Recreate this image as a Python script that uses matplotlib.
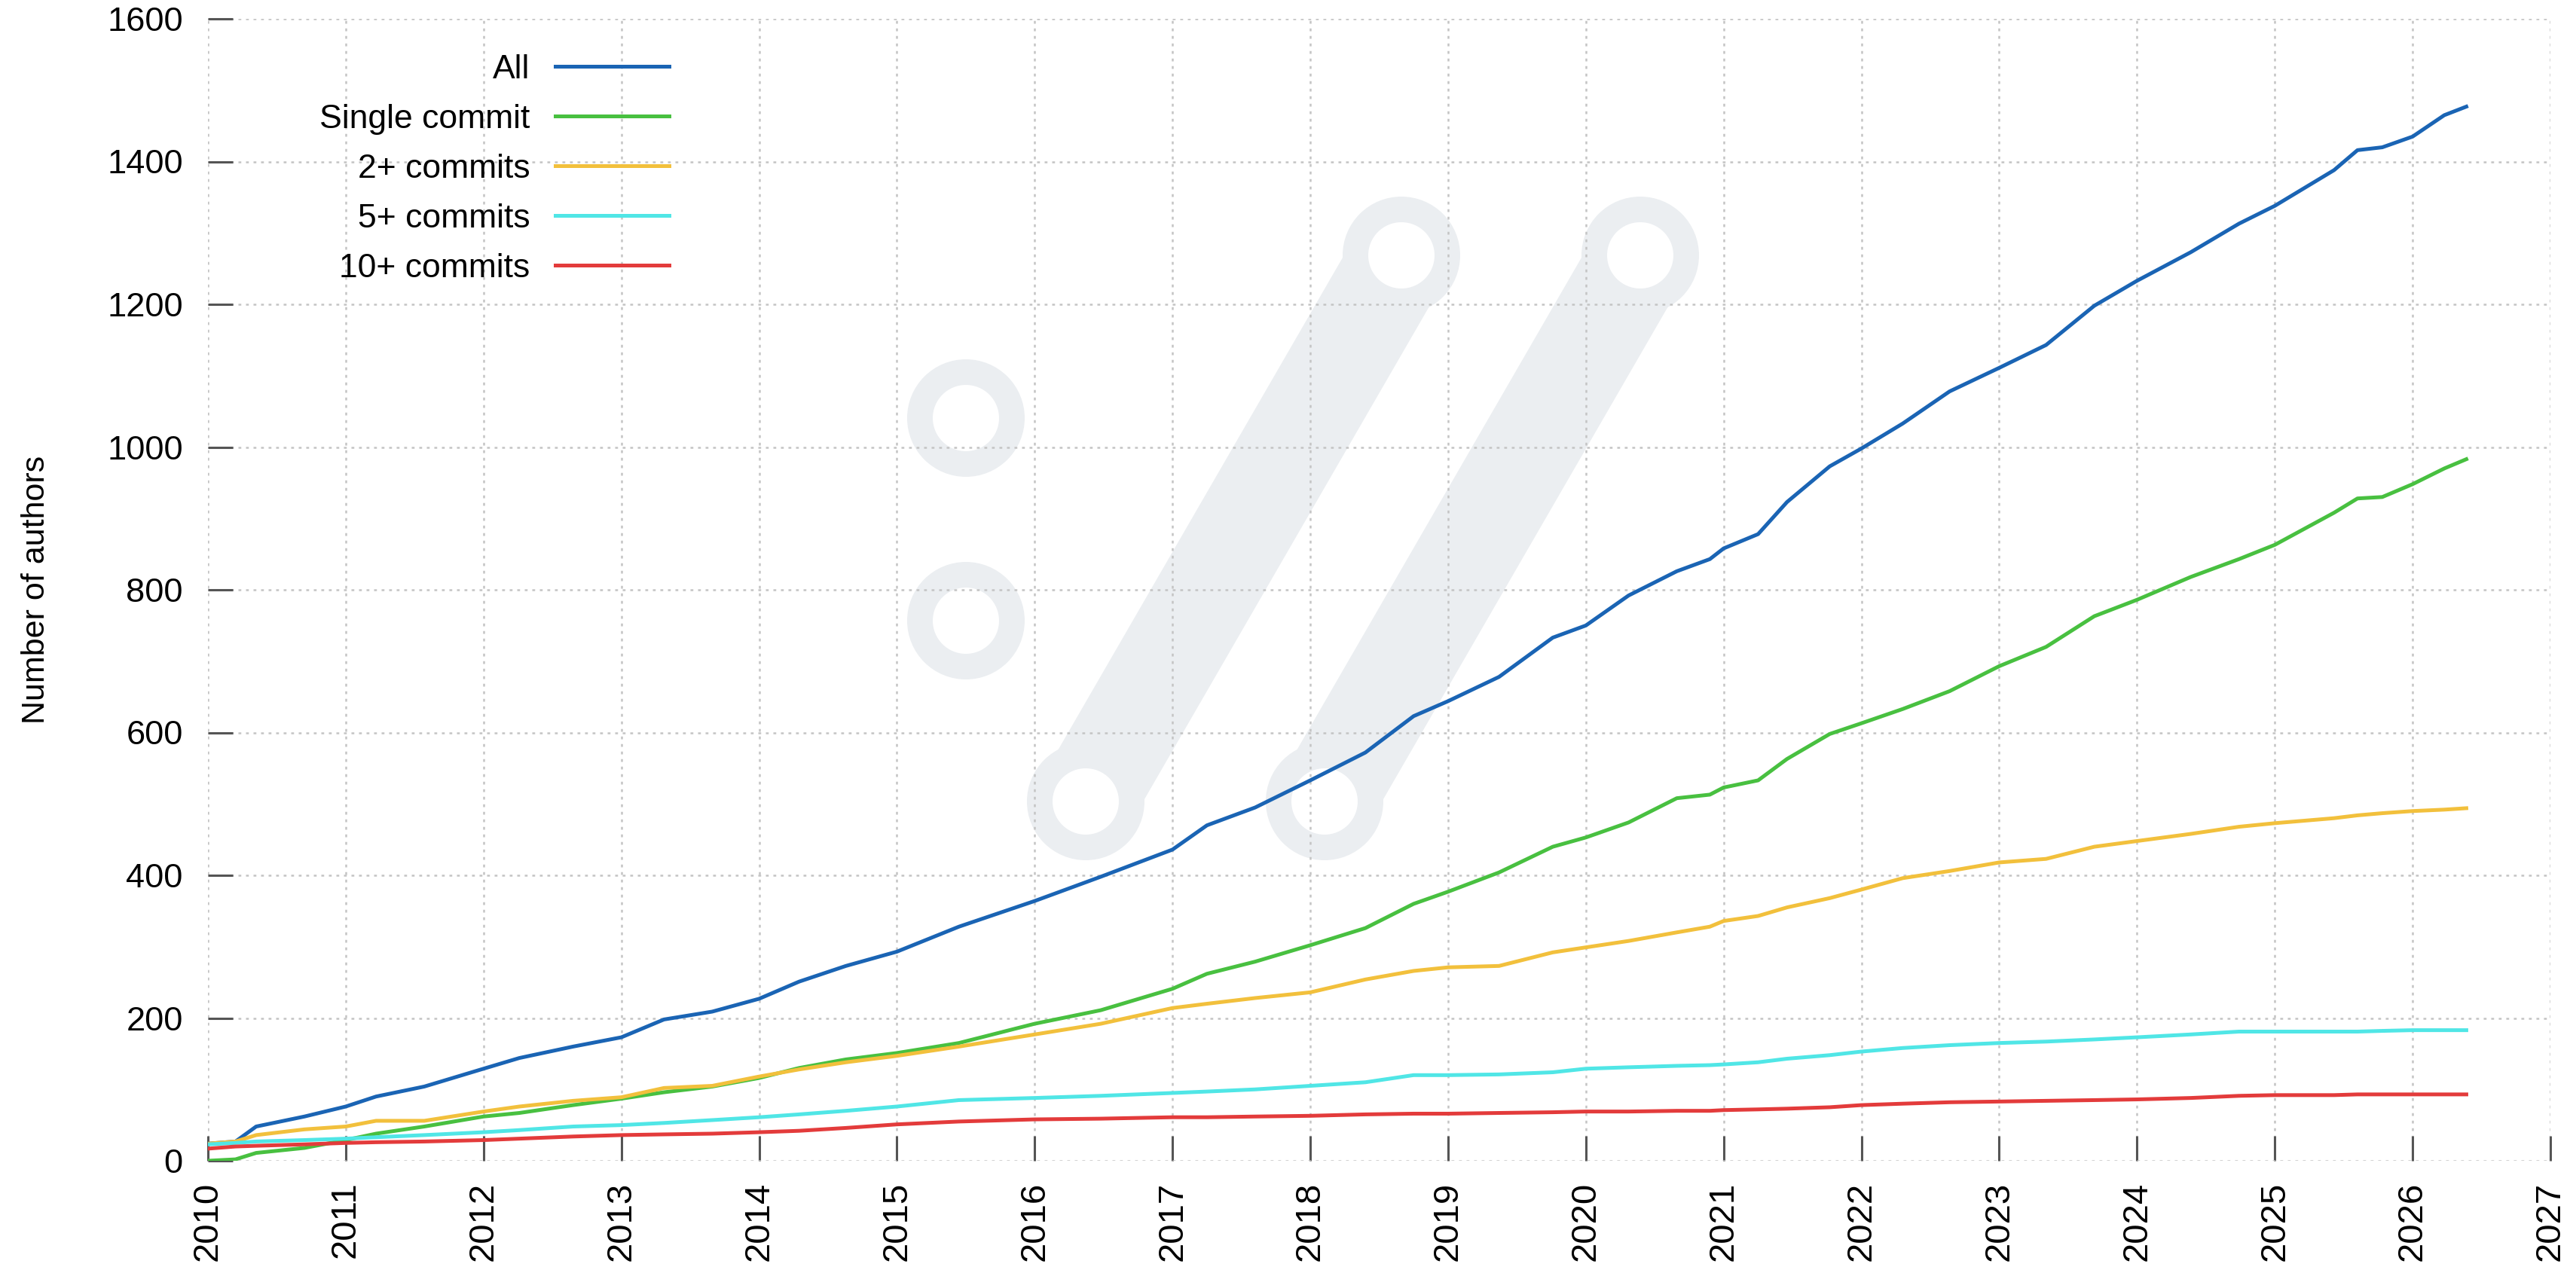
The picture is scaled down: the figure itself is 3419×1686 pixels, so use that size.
import matplotlib
matplotlib.use('Agg')
import matplotlib.pyplot as plt
from matplotlib import font_manager
from matplotlib.patches import Circle, Polygon
import numpy as np

# cumulative number of distinct authors, sampled along the timeline
years = [2010.0, 2010.2, 2010.35, 2010.7, 2011.0, 2011.22, 2011.57, 2012.0, 2012.26, 2012.65,
         2013.0, 2013.31, 2013.66, 2014.0, 2014.29, 2014.63, 2015.0, 2015.45, 2016.0, 2016.48,
         2017.0, 2017.25, 2017.6, 2018.0, 2018.4, 2018.75, 2019.0, 2019.37, 2019.76, 2020.0,
         2020.31, 2020.66, 2020.9, 2021.0, 2021.25, 2021.46, 2021.77, 2022.0, 2022.3, 2022.64,
         2023.0, 2023.34, 2023.69, 2024.0, 2024.39, 2024.74, 2025.0, 2025.43, 2025.6, 2025.78,
         2026.0, 2026.23, 2026.39]

all_authors = [24, 27, 48, 62, 76, 90, 104, 129, 144, 160,
               173, 198, 209, 227, 251, 273, 293, 328, 364, 398,
               436, 470, 495, 533, 572, 623, 644, 678, 733, 750,
               792, 826, 843, 858, 878, 923, 973, 998, 1033, 1078,
               1111, 1143, 1198, 1233, 1273, 1313, 1338, 1388, 1416, 1420,
               1435, 1465, 1477]

single_commit = [0, 2, 11, 18, 29, 38, 48, 62, 67, 78,
                 87, 96, 104, 116, 130, 142, 151, 165, 192, 211,
                 241, 262, 279, 302, 326, 360, 377, 404, 440, 453,
                 474, 508, 513, 523, 533, 563, 598, 613, 633, 658,
                 693, 720, 763, 786, 818, 843, 863, 908, 928, 930,
                 948, 970, 983]

two_plus = [24, 27, 36, 44, 48, 56, 56, 69, 76, 84,
            89, 102, 105, 118, 128, 138, 147, 160, 177, 192,
            214, 220, 228, 236, 254, 266, 271, 273, 292, 299,
            308, 320, 328, 336, 343, 355, 368, 380, 396, 406,
            418, 423, 440, 448, 458, 468, 473, 480, 484, 487,
            490, 492, 494]

five_plus = [23, 25, 27, 29, 31, 33, 36, 40, 43, 48,
             50, 53, 57, 61, 65, 70, 76, 85, 88, 91,
             95, 97, 100, 105, 110, 120, 120, 121, 124, 129,
             131, 133, 134, 135, 138, 143, 148, 153, 158, 162,
             165, 167, 170, 173, 177, 181, 181, 181, 181, 182,
             183, 183, 183]

ten_plus = [17, 20, 21, 23, 25, 26, 27, 29, 31, 34,
            36, 37, 38, 40, 42, 46, 51, 55, 58, 59,
            61, 61, 62, 63, 65, 66, 66, 67, 68, 69,
            69, 70, 70, 71, 72, 73, 75, 78, 80, 82,
            83, 84, 85, 86, 88, 91, 92, 92, 93, 93,
            93, 93, 93]

series = [
    ('All', all_authors, '#1a64b4'),
    ('Single commit', single_commit, '#48c040'),
    ('2+ commits', two_plus, '#f2c03c'),
    ('5+ commits', five_plus, '#50e6e6'),
    ('10+ commits', ten_plus, '#e33b3b'),
]

plt.rcParams['font.family'] = ['Liberation Sans', 'DejaVu Sans']
installed = {f.name for f in font_manager.fontManager.ttflist}
if 'Liberation Sans Narrow' in installed:
    year_font, year_size = 'Liberation Sans Narrow', 18
else:
    year_font, year_size = 'Liberation Sans', 17

W, H, DPI = 3419, 1686, 200
fig = plt.figure(figsize=(W / DPI, H / DPI), dpi=DPI)
fig.patch.set_facecolor('white')

# faint logo drawn behind the plot, in pixel units
bg = fig.add_axes([0, 0, 1, 1], zorder=0)
bg.set_xlim(0, W)
bg.set_ylim(H, 0)
bg.axis('off')
logo = '#ebeef1'


def bar(x0, y0, x1, y1, w=132):
    d = np.array([x1 - x0, y1 - y0], dtype=float)
    n = np.array([-d[1], d[0]]) / np.hypot(*d) * w / 2
    pts = [(x0 + n[0], y0 + n[1]), (x1 + n[0], y1 + n[1]),
           (x1 - n[0], y1 - n[1]), (x0 - n[0], y0 - n[1])]
    bg.add_patch(Polygon(pts, color=logo, lw=0))


ends = [(1282, 555), (1282, 824), (1441, 1064), (1860, 339), (1758, 1064), (2177, 339)]
bar(1441, 1064, 1860, 339)
bar(1758, 1064, 2177, 339)
for cx, cy in ends:
    bg.add_patch(Circle((cx, cy), 78, color=logo, lw=0))
for cx, cy in ends:
    bg.add_patch(Circle((cx, cy), 44, color='white', lw=0))

ax = fig.add_axes([276 / W, 1 - 1541 / H, (3385 - 276) / W, (1541 - 25) / H], zorder=1)
ax.patch.set_alpha(0)

for label, vals, color in series:
    ax.plot(years, vals, color=color, lw=1.8, label=label)

ax.set_xlim(2010, 2027)
ax.set_ylim(0, 1600)
ax.set_xticks(range(2010, 2028))
ax.set_xticklabels([str(y) for y in range(2010, 2028)], rotation=90,
                   family=[year_font, 'DejaVu Sans'], fontsize=year_size)
ax.set_yticks(range(0, 1601, 200))

for s in ax.spines.values():
    s.set_visible(False)

ax.grid(True, color='#c4c4c4', linestyle=(0, (1.5, 2.5)), linewidth=0.9)
ax.tick_params(axis='both', direction='in', length=12, width=1.1, color='#555555',
               labelcolor='black')
ax.tick_params(axis='y', pad=12, labelsize=16.3)
ax.tick_params(axis='x', pad=10)

ax.set_ylabel('Number of authors', fontsize=15.5)
ax.yaxis.set_label_coords(-0.067, 0.5)

leg = ax.legend(loc='upper right', bbox_to_anchor=(888 / W, 1 - 72 / H),
                bbox_transform=fig.transFigure, frameon=False, markerfirst=False,
                handlelength=3.4, handletextpad=0.75, labelspacing=0.56,
                borderpad=0, borderaxespad=0, fontsize=16)
# right-justify the labels so the line samples line up
leg._legend_box._children[1]._children[0].align = 'right'

fig.savefig('out.png', dpi=DPI)
